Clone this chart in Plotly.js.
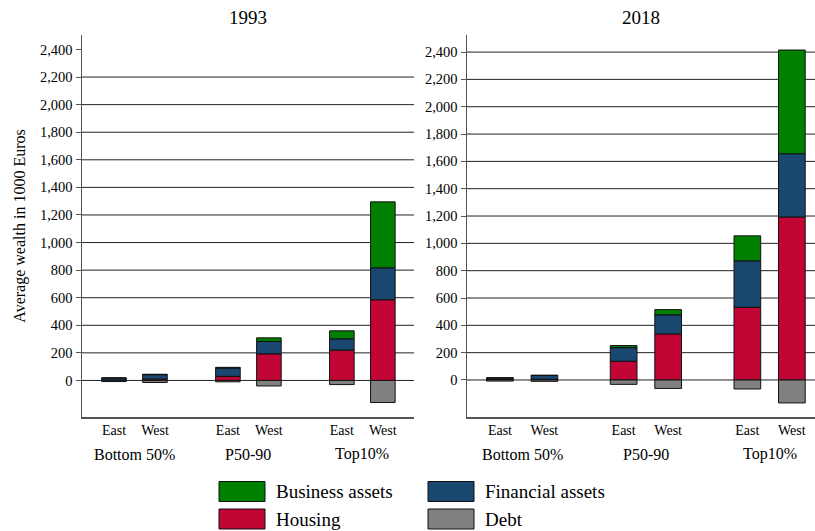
<!DOCTYPE html>
<html>
<head>
<meta charset="utf-8">
<script src="https://cdn.plot.ly/plotly-3.0.1.min.js"></script>
<style>html,body{margin:0;padding:0;background:#fff;}#chart{width:815px;height:531px;}</style>
</head>
<body>
<div id="chart"></div>
<script>
// ---- data ----
const groups = ['Bottom 50%', 'P50-90', 'Top10%'];
const regions = ['East', 'West'];
const years = ['1993', '2018'];
const seriesNames = ['Housing', 'Financial assets', 'Business assets', 'Debt'];

// order: B50 East, B50 West, P50-90 East, P50-90 West, Top10 East, Top10 West
const housing1993   = [2, 10, 30, 193, 220, 585];
const financial1993 = [15, 32, 60, 90, 82, 232];
const business1993  = [2, 3, 5, 26, 58, 478];
const debt1993      = [-8, -15, -10, -40, -30, -160];

const housing2018   = [2, 5, 137, 337, 532, 1193];
const financial2018 = [13, 28, 100, 140, 340, 463];
const business2018  = [1, 2, 15, 38, 183, 759];
const debt2018      = [-8, -10, -32, -62, -66, -168];

const yTickValues = [0, 200, 400, 600, 800, 1000, 1200, 1400, 1600, 1800, 2000, 2200, 2400];
const gridMax = {'1993': 2200, '2018': 2400};

// ---- styles ----
const colors = {'Housing': '#C10534', 'Financial assets': '#1A476F', 'Business assets': '#008000', 'Debt': '#808080'};
const FONT = 'Liberation Serif, Times New Roman, serif';
const GROUP_GAP = 2.78;

const dataByYear = {
  '1993': {'Housing': housing1993, 'Financial assets': financial1993, 'Business assets': business1993, 'Debt': debt1993},
  '2018': {'Housing': housing2018, 'Financial assets': financial2018, 'Business assets': business2018, 'Debt': debt2018}
};

// numeric x position for each (group, region) category
const xPos = [];
const xTickText = [];
groups.forEach((g, gi) => regions.forEach((r, ri) => { xPos.push(gi * GROUP_GAP + ri); xTickText.push(r); }));

const traces = [];
years.forEach((yr, yi) => {
  const ax = yi === 0 ? '' : '2';
  seriesNames.forEach(name => {
    traces.push({
      type: 'bar', name: name, x: xPos, y: dataByYear[yr][name],
      xaxis: 'x' + ax, yaxis: 'y' + ax, width: 0.6,
      marker: {color: colors[name], line: {color: '#111', width: 1}},
      showlegend: false, hoverinfo: 'y'
    });
  });
});

const shapes = [];
const annotations = [];

// gridlines
years.forEach((yr, yi) => {
  const ax = yi === 0 ? '' : '2';
  yTickValues.filter(v => v <= gridMax[yr]).forEach(v => {
    shapes.push({type: 'line', layer: 'below', xref: 'x' + ax + ' domain', yref: 'y' + ax,
      x0: 0, x1: 1, y0: v, y1: v, line: {color: '#222', width: 1}});
  });
  // panel title
  annotations.push({text: yr, xref: 'x' + ax + ' domain', yref: 'paper', x: 0.5, y: 1 - 17/531,
    xanchor: 'center', yanchor: 'middle', showarrow: false, font: {family: FONT, size: 19, color: '#000'}});
  // group labels
  groups.forEach((g, gi) => {
    annotations.push({text: g, xref: 'x' + ax, yref: 'paper', x: gi * GROUP_GAP + 0.5, y: 1 - 454/531,
      xanchor: 'center', yanchor: 'middle', showarrow: false, font: {family: FONT, size: 16, color: '#000'}});
  });
});

// manual legend
const legendOrder = ['Business assets', 'Financial assets', 'Housing', 'Debt'];
legendOrder.forEach((name, i) => {
  const col = i % 2, row = Math.floor(i / 2);
  const sx = [219, 428][col], top = [481.5, 509][row];
  shapes.push({type: 'rect', xref: 'paper', yref: 'paper',
    x0: sx / 815, x1: (sx + 46) / 815, y0: 1 - (top + 20) / 531, y1: 1 - top / 531,
    fillcolor: colors[name], line: {color: '#111', width: 1}});
  annotations.push({text: name, xref: 'paper', yref: 'paper', x: (sx + 55) / 815, y: 1 - (top + 10) / 531,
    xanchor: 'left', yanchor: 'middle', showarrow: false, font: {family: FONT, size: 19, color: '#000'}});
});

function yAxis(range, withTitle) {
  const a = {
    range: range, domain: [1 - 417/531, 1 - 35/531], tickvals: yTickValues, tickformat: ',',
    showgrid: false, zeroline: false, showline: true, linecolor: '#555', linewidth: 1.5,
    ticks: 'outside', ticklen: 5, tickcolor: '#555', tickwidth: 1,
    tickfont: {family: FONT, size: 14.5, color: '#000'}, automargin: false, fixedrange: true
  };
  if (withTitle) a.title = {text: 'Average wealth in 1000 Euros', font: {family: FONT, size: 16, color: '#000'}, standoff: 10};
  return a;
}
function xAxis(range, domain) {
  return {
    range: range, domain: domain, tickvals: xPos, ticktext: xTickText, showgrid: false, zeroline: false,
    showline: true, linecolor: '#555', linewidth: 1.5, ticks: '',
    tickfont: {family: FONT, size: 14, color: '#000'}, automargin: false, fixedrange: true
  };
}

const layout = {
  width: 815, height: 531, margin: {l: 0, r: 0, t: 0, b: 0},
  paper_bgcolor: '#fff', plot_bgcolor: '#fff', barmode: 'relative', separators: '.,',
  font: {family: FONT, color: '#000'},
  xaxis: Object.assign(xAxis([-0.78, 7.32], [82/815, 414/815]), {anchor: 'y'}),
  yaxis: Object.assign(yAxis([-265, 2505], true), {anchor: 'x'}),
  xaxis2: Object.assign(xAxis([-0.74, 7.08], [467/815, 1]), {anchor: 'y2'}),
  yaxis2: Object.assign(yAxis([-271, 2525], false), {anchor: 'x2'}),
  shapes: shapes, annotations: annotations, showlegend: false
};

Plotly.newPlot('chart', traces, layout, {staticPlot: true, displayModeBar: false});
</script>
</body>
</html>
